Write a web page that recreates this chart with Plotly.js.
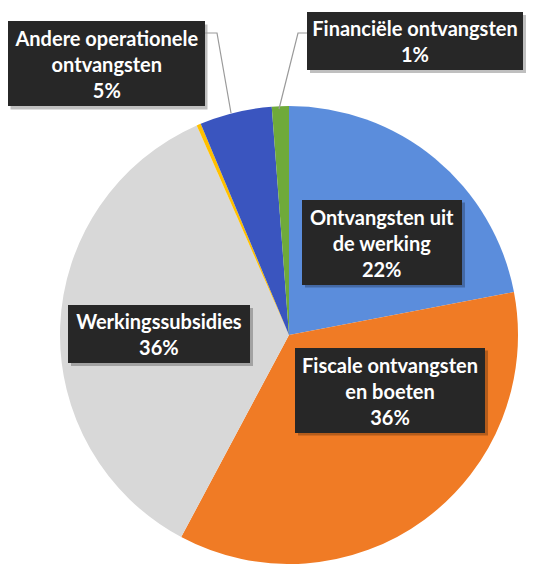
<!DOCTYPE html>
<html>
<head>
<meta charset="utf-8">
<script src="https://cdn.plot.ly/plotly-3.0.1.min.js"></script>
<style>html,body{margin:0;padding:0;background:#fff;}#chart{width:533px;height:564px;}</style>
</head>
<body>
<div id="chart"></div>
<script>
// Data, clockwise from 12 o'clock
const categories = [
  "Ontvangsten uit de werking",
  "Fiscale ontvangsten en boeten",
  "Werkingssubsidies",
  "Overige",
  "Andere operationele ontvangsten",
  "Financiële ontvangsten"
];
const values = [22.0, 35.8, 35.6, 0.3, 5.1, 1.2];
const labelLines = [
  "Ontvangsten uit<br>de werking",
  "Fiscale ontvangsten<br>en boeten",
  "Werkingssubsidies",
  null,
  "Andere operationele<br>ontvangsten",
  "Financiële ontvangsten"
];
const colors = ["#5B8DDC", "#F07B25", "#D8D8D8", "#FFC000", "#3A55BF", "#6FAA3A"];

const W = 533, H = 564;
const px = x => x / W;
const py = y => 1 - y / H;

// label box placement (pixels): [cx, cy, w, h]
const boxes = [
  [382, 242, 160, 85],
  [390, 390, 190, 85],
  [159, 334, 182, 58],
  null,
  [106, 64, 197, 85],
  [415, 41, 216, 58]
];

const total = values.reduce((a, b) => a + b, 0);
const annotations = [];
const shapes = [];
boxes.forEach((b, i) => {
  if (!b) return;
  const pct = Math.round(values[i] / total * 100) + "%";
  // shadow
  shapes.push({
    type: "rect", xref: "paper", yref: "paper", layer: "above",
    x0: px(b[0] - b[2] / 2 + 3), x1: px(b[0] + b[2] / 2 + 3),
    y0: py(b[1] + b[3] / 2 + 3), y1: py(b[1] - b[3] / 2 + 3),
    fillcolor: "rgba(0,0,0,0.25)", line: {width: 0}
  });
  annotations.push({
    xref: "paper", yref: "paper",
    x: px(b[0]), y: py(b[1]), xanchor: "center", yanchor: "middle",
    showarrow: false,
    text: "<b>" + labelLines[i] + "<br>" + pct + "</b>",
    width: b[2], height: b[3], borderpad: 0, borderwidth: 0,
    bgcolor: "#272727",
    font: {family: "Lato, 'Open Sans', sans-serif", size: 20, color: "#ffffff"},
    align: "center", valign: "middle"
  });
});

// leader lines
shapes.push({
  type: "path", xref: "paper", yref: "paper", layer: "above",
  path: `M ${px(205)} ${py(33)} L ${px(217)} ${py(33)} L ${px(231)} ${py(113)}`,
  line: {color: "#9a9a9a", width: 1.2}
});
shapes.push({
  type: "path", xref: "paper", yref: "paper", layer: "above",
  path: `M ${px(307)} ${py(33)} L ${px(298)} ${py(33)} L ${px(279)} ${py(109)}`,
  line: {color: "#9a9a9a", width: 1.2}
});

const trace = {
  type: "pie",
  labels: categories,
  values: values,
  sort: false,
  direction: "clockwise",
  rotation: 0,
  marker: {colors: colors, line: {width: 0}},
  textinfo: "none",
  hoverinfo: "none",
  domain: {x: [px(60), px(518)], y: [0, 458 / H]},
  showlegend: false
};

Plotly.newPlot("chart", [trace], {
  width: W, height: H,
  margin: {l: 0, r: 0, t: 0, b: 0},
  paper_bgcolor: "#ffffff",
  showlegend: false,
  annotations: annotations,
  shapes: shapes
}, {staticPlot: true});
</script>
</body>
</html>
